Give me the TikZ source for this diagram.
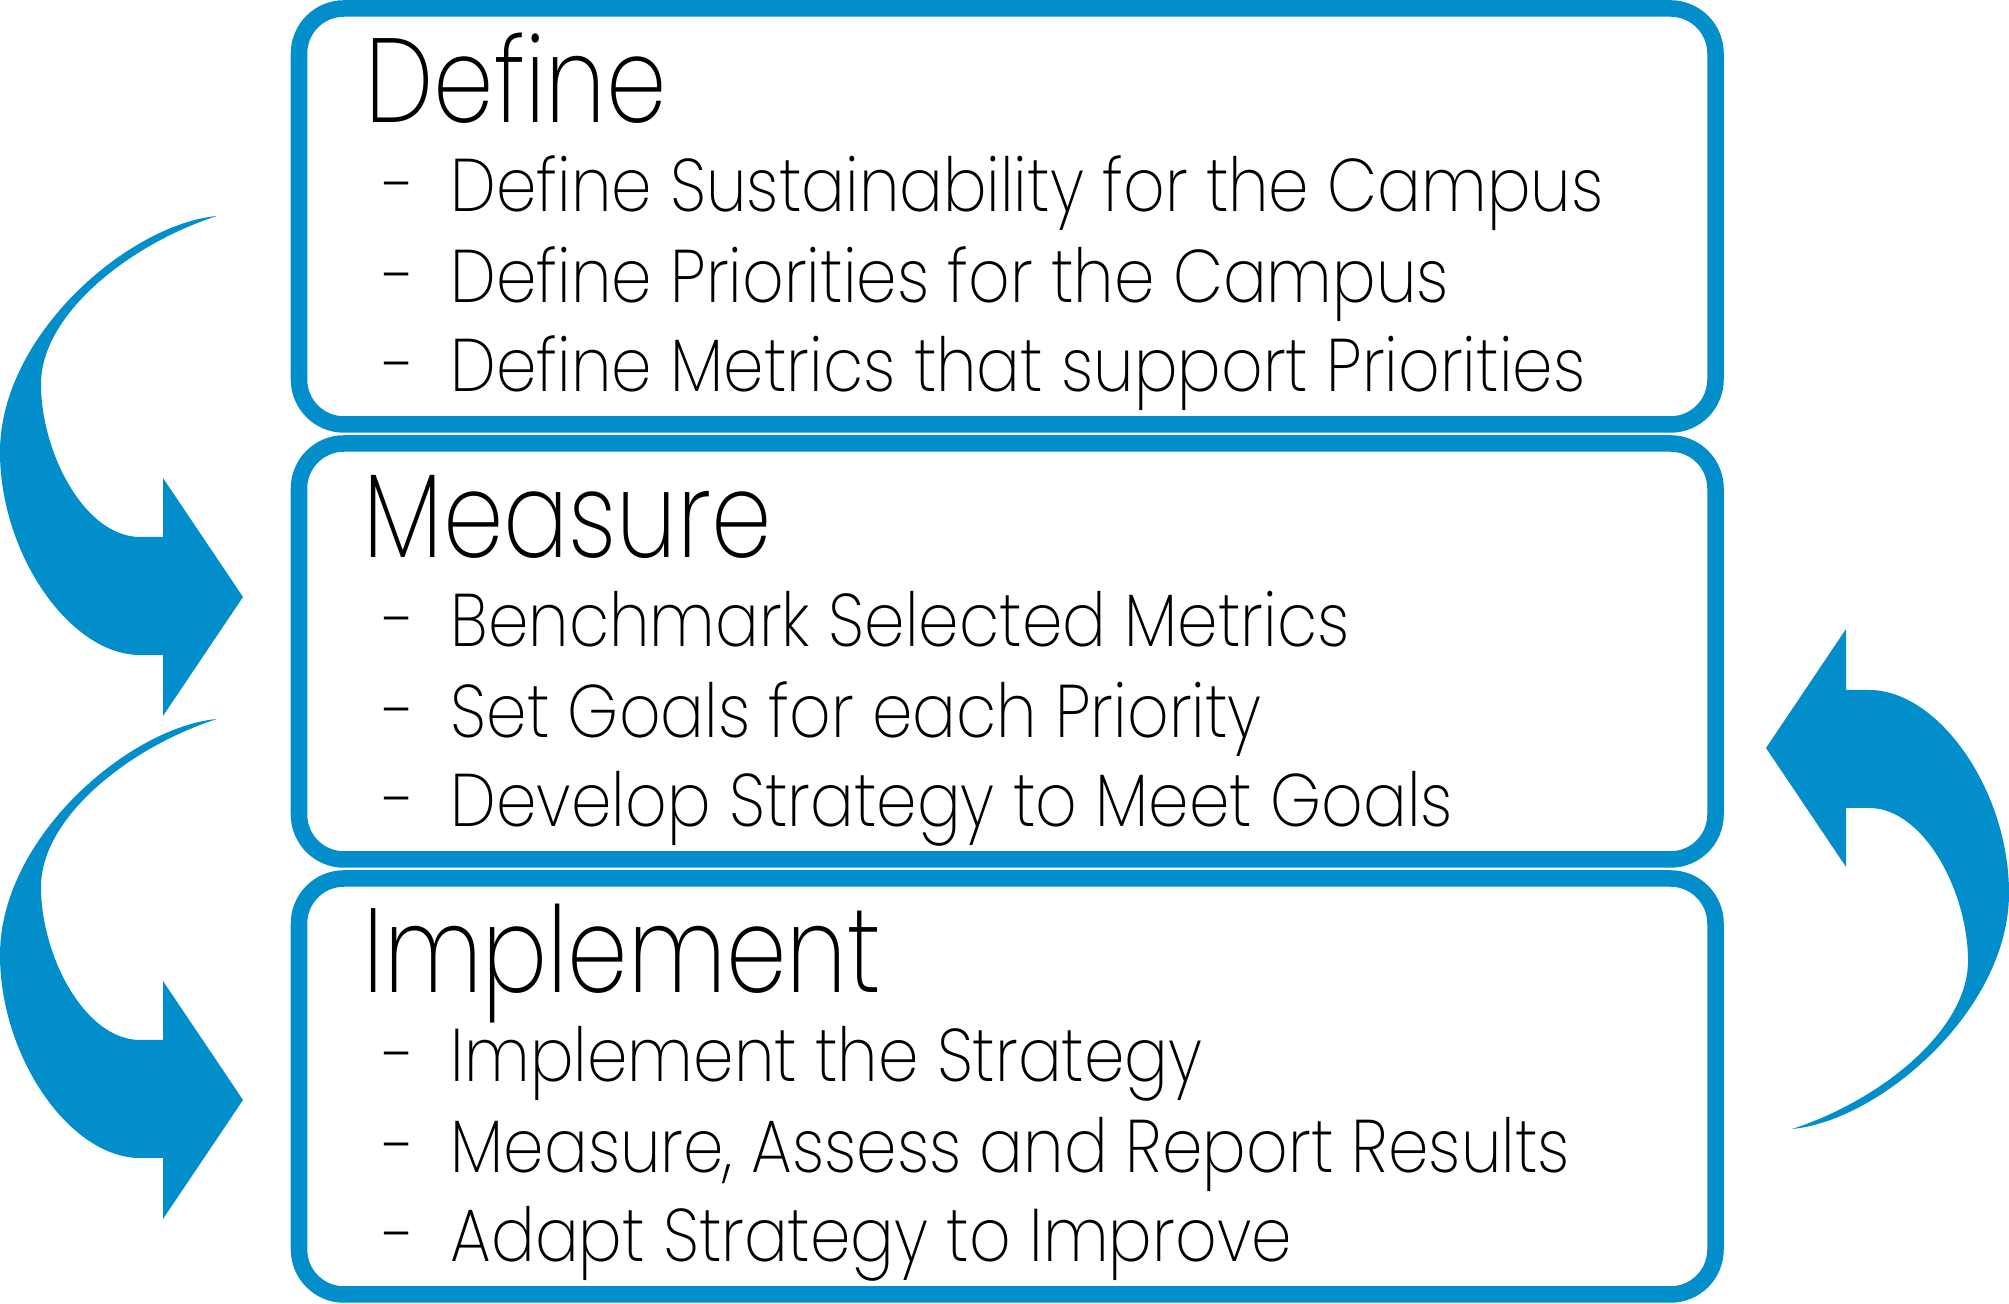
\documentclass[tikz,border=0pt]{standalone}
\usepackage{fontspec}
\setmainfont{Poppins ExtraLight}[FakeStretch=0.87]
\newfontfamily\headfont{Poppins ExtraLight}[FakeStretch=0.81]
\definecolor{cycleblue}{RGB}{2,142,202}
\tikzset{
  stage/.style={draw=cycleblue, line width=.165cm, rounded corners=.45cm},
  heading/.style={anchor=base west, inner sep=0pt, font=\headfont\fontsize{34}{40}\selectfont},
  task/.style={anchor=base west, inner sep=0pt, font=\fontsize{21.2}{26}\selectfont},
}
% curved arrow, tail at the top, head pointing right
\newcommand{\bentarrow}{(217,1088) .. controls (130,1080) and (0,970) .. (0,852)
  .. controls (0,750) and (70,649) .. (140,649) -- (163,649) -- (163,588)
  -- (243,707) -- (163,826) -- (163,767) -- (140,767)
  .. controls (85,767) and (41,851) .. (41,920)
  .. controls (41,990) and (130,1060) .. (217,1088) -- cycle}

\begin{document}
\begin{tikzpicture}[x=.01cm, y=.01cm]
\useasboundingbox (0,0) rectangle (2009,1304);
% the three stages
\draw[stage] (299,879.5) rectangle (1715.5,1295.5);
\draw[stage] (299,444.5) rectangle (1715.5,860.5);
\draw[stage] (299,9.5) rectangle (1715.5,425.5);
% define
\node[heading] (define) at (365,1181) {Define};
\node[task] (dash1) at (384,1092) {-};
\node[task] (define1) at (450,1092) {Define Sustainability for the Campus};
\node[task] (dash2) at (384,1001) {-};
\node[task] (define2) at (450,1001) {Define Priorities for the Campus};
\node[task] (dash3) at (384,912) {-};
\node[task] (define3) at (450,912) {Define Metrics that support Priorities};
% measure
\node[heading] (measure) at (363,746) {Measure};
\node[task] (dash4) at (384,657) {-};
\node[task] (measure1) at (450,657) {Benchmark Selected Metrics};
\node[task] (dash5) at (384,566) {-};
\node[task] (measure2) at (450,566) {Set Goals for each Priority};
\node[task] (dash6) at (384,477) {-};
\node[task] (measure3) at (450,477) {Develop Strategy to Meet Goals};
% implement
\node[heading] (implement) at (363,311) {Implement};
\node[task] (dash7) at (384,222) {-};
\node[task] (implement1) at (450,222) {Implement the Strategy};
\node[task] (dash8) at (384,131) {-};
\node[task] (implement2) at (450,131) {Measure, Assess and Report Results};
\node[task] (dash9) at (384,42) {-};
\node[task] (implement3) at (450,42) {Adapt Strategy to Improve};
% arrows round the cycle
\fill[cycleblue] \bentarrow;
\fill[cycleblue, shift={(0,-503)}] \bentarrow;
\fill[cycleblue, rotate around={180:(1004.5,631.5)}] \bentarrow;
\end{tikzpicture}
\end{document}
